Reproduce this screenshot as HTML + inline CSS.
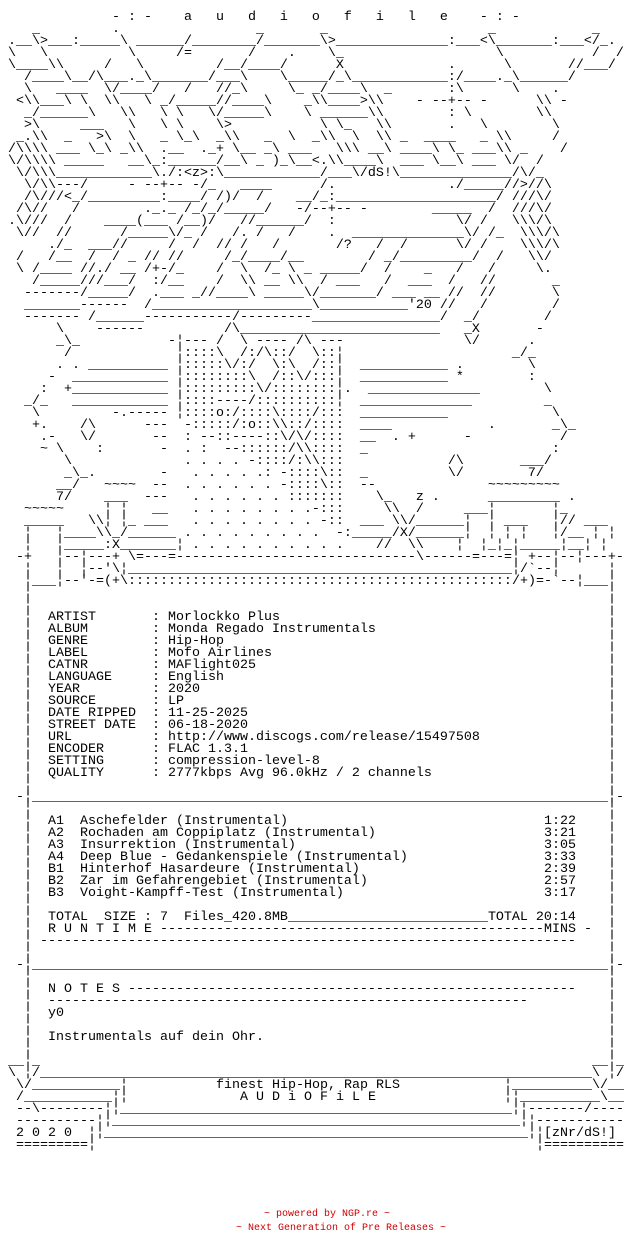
<!DOCTYPE html>
<html><head><meta charset="utf-8"><style>
body{margin:0;background:#fff;width:624px;height:1260px;overflow:hidden;position:relative}
pre{margin:0;font:13.333px/12px "Liberation Mono","DejaVu Sans Mono",monospace;color:#000;position:absolute;left:0;top:0}
.w{display:inline-block;overflow:hidden;vertical-align:top;height:12px;white-space:pre}
.t{display:inline-block;width:464px;white-space:pre}
.r{position:absolute;margin:0;font:10px/12px "Liberation Mono",monospace;color:#c00;white-space:pre}
</style></head><body>
<pre>

              - : -    a   u   d   i   o   f   i   l   e    - : -
    _         .                 _       _                    _            _
 .__\&gt;___:_____\ ______/________/_______\&gt;______________:___&lt;\_______:___&lt;/_.
 \   \          \     /=       /    .    \_                   \           /  /
 \____\\     /   \         /__/____/      X             .      \       //___/
   /____\__/\___._\_______/___\    \_____/_\____________:/____._\______/
   \   ____  \/____/   /   //_\     \_ _/____\  _       :\      \    .
  &lt;\\___\ \  \\   \ _/_____//____\    _\\____&gt;\\    - --+-- -      \\ -
   _/______\   \\   \ \   \/_____\    \ ______\\        : \        \\
   &gt;\     ___   \   \ \    \&gt;           \ \_   \\       .   \        \
  _.\\  _   &gt;\  \   _ \_\  _\\   _  \  _\\  \  \\ _  ____   _ \\     /
 /\\\\ ___ \_\ _\\  .__  ._+ \__ _\ ___   \\\ __\ ____\ \_ ___\\ _    /
 \/\\\\ _____   __\_:______/__\ _ )_\__&lt;.\\____\  ___ \__\ ___ \/  /
  \/\\\____________\./:&lt;z&gt;:\____________/___\/dS!\______________/\/_
   \/\\---/     - --+-- -/_   ____      /.              ./_____//&gt;//\
   /\///&lt;_/_________:____/ /)/  /    __/_:____________________/ ///\/
  /\//   /        ._._ /_/_/_____/   -/--+-- -        _____  /  ///\/
 .\///  /    ____(___ /__)/   //______/  :               \/ /   \\\/\
  \//  //      /_____\/_ /   /. /   /    .  ______________\/ /_  \\\/\
      ./_  ___//     /  /  // /   /       /?   /  /      \/ /    \\\/\
  /   /__  /  / _ // //     /_/____/__        / _/_________/  /   \\/
  \ /____ //./ __ /+-/_    /  \  /_ \ _ _____/  /    _   /   /     \.
    /_____///___/  :/__    /  \\ __ \\  / ___   /  ___  /   //       _
   -------/_____/  .___ _//____\ _____\/_______/ ___ __ //  //       \
   _______------  /____________________\___________'20 //   /        /
   ------- /______-----------/---------________________/  _/        /
       \    ------          /\_________________________   _X       -
       _\_           -¦--- /  \ ---- /\ ---               \/      .
        /             ¦::::\  /:/\::/  \::¦                     _/_
       . . __________ ¦:::::\/:/  \:\  /::¦  ___________ .        \
      -  ____________ ¦::::::::\  /::\/:::¦  ___________ *        :
     :  +____________ ¦:::::::::\/::::::::¦.  ______________        \
   _/_   ____________ ¦::::----/::::::::::¦  ______________         _
    \         -.----- ¦::::o:/::::\::::/:::  ___________             \
    +.    /\      ---  -:::::/:o::\\::/::::  ____            .       _\_
     .-   \/       --  : --::----::\/\/::::  __  . +      -           /
     ~ \    :       -  . :  --::::::/\\::::  _                       :
        \              . . . . -::::/:\\:::             /\       ___/
        _\_.        -   . . . . .: -::::\::  _          \/        7/
       __/   ~~~~  --  . . . . . . -::::\::  --              ~~~~~~~~~
       7/    ___  ---   . . . . . . :::::::    \_   z .      _________ .
   ~~~~~     ¦ ¦   __   . . . . . . . .-:::     \\  /     ___¦       ¦_
   _____   \\¦ ¦_ ___   . . . . . . . . -::  ___ \\/______¦  ¦ ___   ¦// ___
   ¦   ¦____\\_/______ . . . . . . . . .  -:_____/X/______¦  ¦ ¦ ¦   ¦/__ ¦ ¦
   ¦   ¦_____:X_______¦ . . . . . . . . . .    //  \\    ¦  ¦_¦_¦_____¦__¦ ¦
  -+   ¦--¦---+ \=---=<span class="w" style="width:240px">----------------------------------------</span>\------=---=¦ +--¦--¦---+-
   ¦   ¦  ¦--'\¦<span class="w" style="width:384px">________________________________________________________________</span>¦/`--¦      ¦
   ¦___¦--'-=(+\<span class="w" style="width:384px">::::::::::::::::::::::::::::::::::::::::::::::::::::::::::::::::</span>/+)=-`--¦___¦


      ARTIST       : Morlockko Plus
      ALBUM        : Monda Regado Instrumentals
      GENRE        : Hip-Hop
      LABEL        : Mofo Airlines
      CATNR        : MAFlight025
      LANGUAGE     : English
      YEAR         : 2020
      SOURCE       : LP
      DATE RIPPED  : 11-25-2025
      STREET DATE  : 06-18-2020
      URL          : http://www.discogs.com/release/15497508
      ENCODER      : FLAC 1.3.1
      SETTING      : compression-level-8
      QUALITY      : 2777kbps Avg 96.0kHz / 2 channels

  -¦<span class="w" style="width:576px">________________________________________________________________________________</span>¦-

      A1  <span class="t">Aschefelder (Instrumental)</span>1:22
      A2  <span class="t">Rochaden am Coppiplatz (Instrumental)</span>3:21
      A3  <span class="t">Insurrektion (Instrumental)</span>3:05
      A4  <span class="t">Deep Blue - Gedankenspiele (Instrumental)</span>3:33
      B1  <span class="t">Hinterhof Hasardeure (Instrumental)</span>2:39
      B2  <span class="t">Zar im Gefahrengebiet (Instrumental)</span>2:57
      B3  <span class="t">Voight-Kampff-Test (Instrumental)</span>3:17

      TOTAL  SIZE : 7  Files_420.8MB<span class="w" style="width:200px">________________________________________</span>TOTAL 20:14
      R U N T I M E <span class="w" style="width:384px">----------------------------------------------------------------</span>MINS -
     <span class="w" style="width:536px">--------------------------------------------------------------------------------</span>

  -¦<span class="w" style="width:576px">________________________________________________________________________________</span>¦-

      N O T E S <span class="w" style="width:448px">----------------------------------------------------------------------</span>
      <span class="w" style="width:480px">----------------------------------------------------------------------</span>
      y0

      Instrumentals auf dein Ohr.

 __¦_<span class="w" style="width:552px"></span>__¦_
 \ ¦/<span class="w" style="width:552px">________________________________________________________________________________</span>\ ¦/
  \/<span class="w" style="width:88px">______________</span>¦<span class="w" style="width:88px"></span>finest Hip-Hop, Rap RLS<span class="w" style="width:104px"></span>¦<span class="w" style="width:80px">______________</span>\/__
  /<span class="w" style="width:88px">______________</span>¦¦<span class="w" style="width:112px"></span>A U D i O F i L E<span class="w" style="width:128px"></span>¦¦<span class="w" style="width:80px">______________</span>\__
  --\<span class="w" style="width:64px">------------</span>¦¦<span class="w" style="width:392px">________________________________________________________________</span>¦¦<span class="w" style="width:56px">----------</span>/----
  <span class="w" style="width:80px">--------------</span>¦¦<span class="w" style="width:408px">________________________________________________________________</span>¦¦<span class="w" style="width:88px">--------------</span>
  2 0 2 0  ¦¦<span class="w" style="width:424px">________________________________________________________________</span>¦¦[zNr/dS!]
  <span class="w" style="width:72px">============</span>¦<span class="w" style="width:440px"></span>¦<span class="w" style="width:80px">============</span>
</pre>
<pre style="left:24px;top:588px">¦
¦
¦
¦
¦
¦
¦
¦
¦
¦
¦
¦
¦
¦
¦
¦
¦
¦
¦
¦
¦
¦
¦
¦
¦
¦
¦
¦
¦
¦
¦
¦
¦
¦
¦
¦
¦
¦
¦</pre>
<pre style="left:608px;top:588px">¦
¦
¦
¦
¦
¦
¦
¦
¦
¦
¦
¦
¦
¦
¦
¦
¦
¦
¦
¦
¦
¦
¦
¦
¦
¦
¦
¦
¦
¦
¦
¦
¦
¦
¦
¦
¦
¦
¦</pre>
<div class="r" style="left:264px;top:1209px">~ powered by NGP.re ~</div>
<div class="r" style="left:236px;top:1223px">~ Next Generation of Pre Releases ~</div>
</body></html>
